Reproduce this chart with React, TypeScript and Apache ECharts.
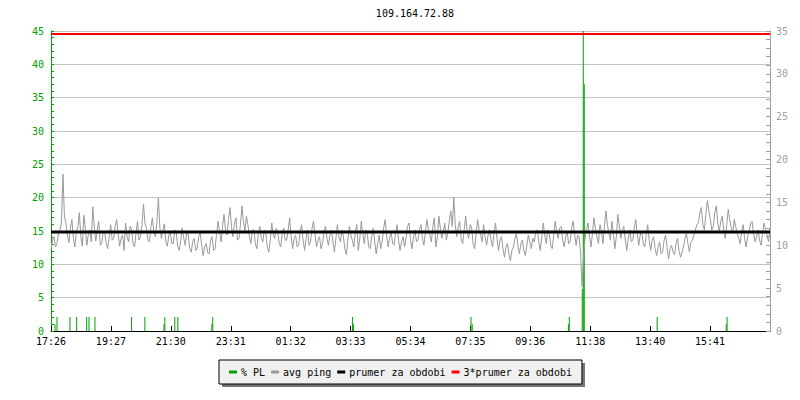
import React, { useEffect, useRef } from "react";
import * as echarts from "echarts";

const titleText = "109.164.72.88";
const tickLabels = ["17:26", "19:27", "21:30", "23:31", "01:32", "03:33", "05:34", "07:35", "09:36", "11:38", "13:40", "15:41"];
const legendNames = ["% PL", "avg ping", "prumer za obdobi", "3*prumer za obdobi"];

// packet loss spikes (x in axis units, value in %)
const plPositions = [1.33, 2, 6.33, 8.56, 11.9, 12.67, 14.67, 26.9, 31.33, 37.7, 38, 41.33, 42.33, 53.7, 54, 100.67, 101, 140.2, 140.6, 172.7, 173, 177.33, 177.67, 178, 202.33, 225.4, 225.67];
const plValues = [1.0, 2.1, 2.1, 2.1, 2.1, 2.1, 2.1, 2.1, 2.1, 1.0, 2.1, 2.1, 2.1, 1.0, 2.1, 2.1, 1.0, 2.1, 1.0, 1.0, 2.1, 6.3, 45, 37, 2.1, 1.0, 2.1];

// avg ping (ms, right axis), read left to right
const pingValues = [
  9.5, 10.6, 11.0, 9.8, 10.2, 11.4, 11.8, 12.6,
  18.3, 13.4,
  12.5, 11.2, 10.3, 12.0, 13.0, 10.8, 9.8, 11.6, 12.2, 13.8, 11.0, 9.9, 13.5, 12.0, 10.0, 11.2, 11.8, 10.4,
  14.5, 12.2, 10.5, 11.8, 12.8, 10.0, 10.2, 11.6,
  11.5, 10.2, 9.6, 11.0, 12.4, 10.6, 10.8, 12.2, 13.0, 11.4, 9.9, 10.8, 11.2, 9.4, 12.6, 11.0, 10.4, 12.2, 11.9, 10.2, 9.8, 11.4, 12.8, 10.6, 11.0, 12.4,
  14.8, 12.6, 12.0, 10.6, 10.4, 12.2, 13.2, 11.4, 11.0, 12.8, 15.5, 12.0, 10.8, 11.8, 12.5, 10.4, 9.9, 11.2, 11.6, 10.2,
  10.2, 11.8, 11.4, 9.8, 9.4, 10.6, 12.0, 10.8, 10.0, 11.6, 11.2, 9.6, 9.2, 10.4, 10.8, 9.4, 9.6, 11.0, 11.5, 10.0,
  8.8, 9.8, 10.2, 9.2, 9.0, 10.6, 11.0, 9.4, 9.6, 11.4,
  12.8, 11.6, 10.4, 12.2, 13.6, 11.8, 11.2, 13.0, 14.4, 12.2, 11.0, 12.6, 13.2, 10.6, 10.8, 12.4, 14.6, 12.8, 11.6, 13.4, 12.4, 11.0, 10.2, 11.8,
  11.8, 10.2, 9.6, 11.4, 12.2, 10.8, 10.4, 11.8, 11.4, 9.8, 9.2, 10.6, 12.6, 11.2, 10.8, 12.0, 11.6, 10.2, 9.8, 11.4, 12.0, 10.6, 10.6, 11.8, 13.2,
  11.0, 9.6, 10.8, 11.2, 9.8, 10.0, 11.6, 12.4, 10.6, 9.4, 10.8, 11.8, 10.0, 10.4, 12.0, 12.8, 11.2, 9.8, 10.6, 11.0, 9.6, 10.2, 11.6, 12.2, 10.8,
  10.0, 11.2, 11.8, 10.4, 9.2, 10.8, 12.4, 11.0, 10.4, 11.8, 11.0, 9.6, 8.9, 10.6, 12.2, 11.2, 10.6, 9.8, 11.6, 12.4, 9.4, 10.8, 12.8, 11.4, 10.2, 11.8, 11.4, 9.8, 9.6, 11.0,
  12.0, 10.4, 9.0, 10.2, 11.2, 9.6, 10.4, 12.0, 13.0, 11.2, 9.8, 10.8, 11.6, 10.2, 10.0, 11.4, 12.4, 10.6, 9.4, 10.4, 11.0, 9.8, 10.8, 12.2, 12.6, 10.6, 9.6, 11.0, 11.8, 10.4,
  10.6, 11.8, 12.4, 10.8, 10.0, 11.6, 13.0, 11.8, 11.2, 10.4, 12.2, 13.2, 9.8, 11.0, 13.4, 12.0, 10.8, 11.6, 12.6, 10.6, 11.4, 12.8, 14.0, 12.2, 15.6, 12.4,
  11.0, 12.2, 12.8, 10.6, 10.2, 11.8, 13.4, 11.6, 10.8, 12.4, 12.0, 10.2, 9.6, 11.4, 13.0, 11.8, 11.2, 10.4, 12.4, 11.0, 10.0, 11.2, 11.8, 10.6, 9.8, 11.4, 12.6, 10.8,
  9.4, 10.6, 11.0, 9.6, 8.6, 9.8, 10.2, 9.0, 8.2, 9.4, 9.8, 10.8, 11.4, 10.0, 9.0, 10.2, 10.6, 9.4, 8.8, 10.0, 11.2, 10.4, 9.6, 10.8, 10.4, 11.6,
  11.8, 10.4, 9.4, 11.0, 12.6, 11.2, 10.2, 11.8, 11.4, 10.0, 9.6, 11.2, 12.8, 11.6, 10.8, 12.0, 12.2, 10.6, 9.8, 11.0, 11.6, 10.2, 10.4, 12.0, 12.8, 11.4, 10.0, 11.2,
  11.0, 9.2, 5.2, 8.6,
  10.8, 11.8, 12.6, 11.0, 9.8, 11.4, 13.2, 12.0, 11.0, 10.2, 12.4, 11.6, 10.2, 12.2, 14.0, 12.4, 11.4, 10.6, 12.8, 11.4, 9.6, 11.0,
  13.6, 12.2, 10.8, 11.8, 12.2, 10.6, 9.4, 10.8, 11.8, 10.4, 10.6, 12.0, 13.0, 11.4, 10.0, 11.2, 11.6, 10.2, 9.8, 11.2, 12.4, 10.6,
  9.4, 10.6, 11.0, 9.6, 8.8, 9.8, 10.4, 9.0, 9.2, 10.6, 11.2, 9.8, 8.4, 9.6, 10.0, 9.2, 8.9, 10.2, 10.8, 9.4, 8.6, 9.2, 9.8, 10.8, 11.4, 10.2, 9.2, 10.4, 10.6, 11.2, 11.8, 12.4,
  12.6, 13.8, 14.4, 12.4, 11.8, 13.6, 15.2, 14.0, 13.0, 11.8, 12.2, 13.8, 14.6, 12.6, 11.6, 12.8, 13.4, 11.8, 10.8, 12.4, 14.2, 13.0, 12.0, 11.4, 13.0, 12.2, 11.4, 10.8,
  10.2, 11.6, 12.4, 10.8, 9.8, 11.0, 11.6, 12.6, 12.8, 11.4, 10.4, 11.0, 11.8, 10.6, 10.0, 11.4, 12.6, 11.8, 11.2, 10.4, 12.0,
];
const meanPing = 11.55;
const tripleMeanPing = 34.65;

const X_MAX = 240;
const X_STEP = 20;
const FONT = "DejaVu Sans Mono";

export default function App() {
  const ref = useRef<HTMLDivElement>(null);
  useEffect(() => {
    if (!ref.current) return;
    const chart = echarts.init(ref.current, null, { renderer: "svg" });
    const step = X_MAX / (pingValues.length - 1);
    const pingData = pingValues.map((v, i) => [i * step, v]);
    const plData = plPositions.map((x, i) => [x, plValues[i]]);
    const green = "#00a000";
    const gray = "#a0a0a0";
    chart.setOption({
      animation: false,
      title: {
        text: titleText,
        left: 410,
        top: 3,
        textAlign: "center",
        textStyle: { fontFamily: FONT, fontSize: 10, fontWeight: "normal", color: "#000" },
      },
      grid: { left: 51, right: 30, top: 31, bottom: 69, containLabel: false },
      graphic: [
        { type: "rect", z: -1, shape: { x: 222, y: 363, width: 363, height: 24 }, style: { fill: "#777" } },
      ],
      legend: {
        left: 219,
        top: 360,
        padding: [7, 10, 7, 10],
        backgroundColor: "#f0f0f0",
        borderColor: "#000",
        borderWidth: 1,
        borderRadius: 0,
        itemWidth: 8,
        itemHeight: 3,
        itemGap: 6,
        textStyle: { fontFamily: FONT, fontSize: 10, color: "#000", padding: [0, 0, 0, -1] },
        data: legendNames.map((n) => ({ name: n, icon: "rect" })),
      },
      xAxis: {
        type: "value",
        min: 0,
        max: X_MAX,
        interval: X_STEP,
        axisLine: { show: true, lineStyle: { color: "#000", width: 1 } },
        axisTick: { show: true, inside: true, length: 5, lineStyle: { color: "#000" } },
        axisLabel: {
          fontFamily: FONT,
          fontSize: 10,
          color: "#000",
          margin: 5,
          showMaxLabel: false,
          formatter: (v: number) => tickLabels[Math.round(v / X_STEP)] ?? "",
        },
        splitLine: { show: false },
      },
      yAxis: [
        {
          type: "value",
          min: 0,
          max: 45,
          interval: 5,
          position: "left",
          axisLine: { show: true, lineStyle: { color: green, width: 1 } },
          axisTick: { show: true, inside: true, length: 3, lineStyle: { color: green } },
          minorTick: { show: true, splitNumber: 5, length: 3, lineStyle: { color: green } },
          axisLabel: { fontFamily: FONT, fontSize: 10, color: green, margin: 7 },
          splitLine: { show: true, lineStyle: { color: "#c4c4c4", width: 1 } },
        },
        {
          type: "value",
          min: 0,
          max: 35,
          interval: 5,
          position: "right",
          axisLine: { show: true, lineStyle: { color: gray, width: 1 } },
          axisTick: { show: true, inside: true, length: 4, lineStyle: { color: gray } },
          minorTick: { show: true, splitNumber: 5, length: 4, lineStyle: { color: gray } },
          axisLabel: { fontFamily: FONT, fontSize: 10, color: gray, margin: 6 },
          splitLine: { show: false },
        },
      ],
      series: [
        {
          name: legendNames[0],
          type: "bar",
          yAxisIndex: 0,
          barWidth: 1,
          itemStyle: { color: green },
          data: plData,
        },
        {
          name: legendNames[1],
          type: "line",
          yAxisIndex: 1,
          showSymbol: false,
          symbol: "none",
          itemStyle: { color: "#999999" },
          lineStyle: { color: "#999999", width: 1 },
          data: pingData,
        },
        {
          name: legendNames[2],
          type: "line",
          yAxisIndex: 1,
          symbol: "none",
          itemStyle: { color: "#000" },
          lineStyle: { color: "#000", width: 3 },
          data: [[0, meanPing], [X_MAX, meanPing]],
        },
        {
          name: legendNames[3],
          type: "line",
          yAxisIndex: 1,
          symbol: "none",
          itemStyle: { color: "#ff0000" },
          lineStyle: { color: "#ff0000", width: 2 },
          data: [[0, tripleMeanPing], [X_MAX, tripleMeanPing]],
        },
      ],
    });
    return () => chart.dispose();
  }, []);
  return <div ref={ref} style={{ position: "fixed", left: 0, top: 0, width: 800, height: 400, background: "#fff" }} />;
}
